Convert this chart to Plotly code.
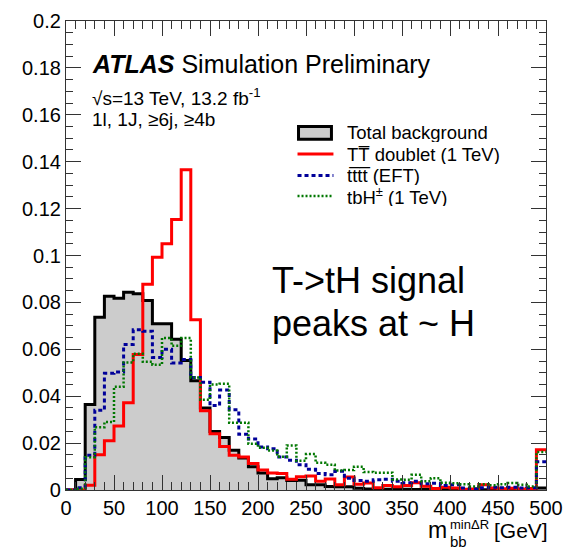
import plotly.graph_objects as go

# ---- binning: 10 GeV bins from 0 to 500 GeV ----
bin_edges = list(range(0, 510, 10))

# ---- normalised m_bb^minDR distributions (one value per bin) ----
total_background = [
    0.0, 0.0045, 0.0365, 0.0737, 0.0826, 0.0818, 0.0843, 0.0837, 0.0808, 0.0709,
    0.0709, 0.0643, 0.0552, 0.0466, 0.0350, 0.0250, 0.0224, 0.0169, 0.0136, 0.0099,
    0.0072, 0.0048, 0.0052, 0.0040, 0.0042, 0.0022, 0.0022, 0.0015, 0.0014, 0.0014,
    0.0007, 0.0004, 0.0004, 0.0003, 0.0003, 0.0003, 0.0002, 0.0003, 0.0002, 0.0002,
    0.0002, 0.0001, 0.0002, 0.0001, 0.0001, 0.0001, 0.0001, 0.0001, 0.0001, 0.0009,
]
tt_doublet = [
    0.0, 0.0, 0.0020, 0.0150, 0.0210, 0.0273, 0.0372, 0.0578, 0.0877, 0.0993,
    0.1050, 0.1153, 0.1366, 0.0726, 0.0338, 0.0240, 0.0186, 0.0148, 0.0141, 0.0113,
    0.0085, 0.0072, 0.0070, 0.0046, 0.0057, 0.0060, 0.0037, 0.0047, 0.0022, 0.0055,
    0.0024, 0.0030, 0.0010, 0.0019, 0.0014, 0.0019, 0.0031, 0.0016, 0.0006, 0.0012,
    0.0009, 0.0003, 0.0004, 0.0022, 0.0008, 0.0005, 0.0007, 0.0004, 0.0006, 0.0172,
]
tttt_eft = [
    0.0, 0.0010, 0.0148, 0.0340, 0.0498, 0.0503, 0.0620, 0.0683, 0.0677, 0.0565,
    0.0600, 0.0542, 0.0557, 0.0480, 0.0460, 0.0360, 0.0426, 0.0342, 0.0238, 0.0217,
    0.0183, 0.0176, 0.0141, 0.0127, 0.0108, 0.0088, 0.0070, 0.0065, 0.0080, 0.0050,
    0.0040, 0.0037, 0.0044, 0.0046, 0.0037, 0.0031, 0.0037, 0.0027, 0.0029, 0.0019,
    0.0022, 0.0009, 0.0005, 0.0010, 0.0012, 0.0010, 0.0012, 0.0008, 0.0010, 0.0120,
]
tbh_charged = [
    0.0, 0.0005, 0.0140, 0.0268, 0.0290, 0.0440, 0.0544, 0.0581, 0.0547, 0.0534,
    0.0648, 0.0615, 0.0648, 0.0480, 0.0385, 0.0450, 0.0453, 0.0287, 0.0287, 0.0197,
    0.0180, 0.0168, 0.0142, 0.0190, 0.0125, 0.0153, 0.0116, 0.0108, 0.0083, 0.0085,
    0.0099, 0.0077, 0.0074, 0.0074, 0.0045, 0.0044, 0.0065, 0.0037, 0.0050, 0.0031,
    0.0029, 0.0025, 0.0015, 0.0025, 0.0020, 0.0025, 0.0030, 0.0022, 0.0015, 0.0162,
]

# ---- axis ticks ----
x_tick_values = [0, 50, 100, 150, 200, 250, 300, 350, 400, 450, 500]
x_tick_labels = ["0", "50", "100", "150", "200", "250", "300", "350", "400", "450", "500"]
y_tick_values = [0, 0.02, 0.04, 0.06, 0.08, 0.1, 0.12, 0.14, 0.16, 0.18, 0.2]
y_tick_labels = ["0", "0.02", "0.04", "0.06", "0.08", "0.1", "0.12", "0.14", "0.16", "0.18", "0.2"]

legend_labels = [
    "Total background",
    "TT\u0305 doublet (1 TeV)",
    "tt\u0305tt\u0305 (EFT)",
    "tbH<sup>\u00b1</sup> (1 TeV)",
]

FONT = "Liberation Sans, Arial, Helvetica, sans-serif"
W, H = 573, 556
ML, MR, MT, MB = 66, 26, 10, 66
PW, PH = W - ML - MR, H - MT - MB

RED = "#ff0000"
BLUE = "#000099"
GREEN = "#007700"
FILL = "#cccccc"
AXIS = "#333333"


def px(xp):
    return (xp - ML) / PW


def py(yp):
    return (H - MB - yp) / PH


def step(values):
    return bin_edges, list(values) + [values[-1]]


fig = go.Figure()

x, y = step(total_background)
fig.add_trace(go.Scatter(x=x, y=y, mode="lines", line=dict(shape="hv", color="black", width=3),
                         fill="tozeroy", fillcolor=FILL, showlegend=False))
x, y = step(tt_doublet)
fig.add_trace(go.Scatter(x=x, y=y, mode="lines", line=dict(shape="hv", color=RED, width=3),
                         showlegend=False))
x, y = step(tttt_eft)
fig.add_trace(go.Scatter(x=x, y=y, mode="lines",
                         line=dict(shape="hv", color=BLUE, width=3, dash="4px,3px"),
                         showlegend=False))
x, y = step(tbh_charged)
fig.add_trace(go.Scatter(x=x, y=y, mode="lines",
                         line=dict(shape="hv", color=GREEN, width=2.5, dash="2px,2px"),
                         showlegend=False))

axis_common = dict(
    showline=True, linecolor=AXIS, linewidth=1.2, mirror="allticks",
    ticks="inside", tickcolor=AXIS, tickwidth=1.2, ticklen=15,
    showgrid=False, zeroline=False,
    tickfont=dict(family=FONT, size=20, color="black"),
    ticklabeloverflow="allow",
)

fig.update_xaxes(range=[0, 500], tickmode="array", tickvals=x_tick_values, ticktext=x_tick_labels,
                 minor=dict(dtick=10, ticks="inside", ticklen=8, tickcolor=AXIS, tickwidth=1.2),
                 **axis_common)
fig.update_yaxes(range=[0, 0.2], tickmode="array", tickvals=y_tick_values, ticktext=y_tick_labels,
                 minor=dict(dtick=0.005, ticks="inside", ticklen=7, tickcolor=AXIS, tickwidth=1.2),
                 **axis_common)

annotations = []


def text(xp, yp, s, size, anchor="left", color="black", box_h=None):
    ann = dict(x=px(xp), y=py(yp), xref="paper", yref="paper", text=s,
               showarrow=False, xanchor=anchor, yanchor="middle",
               font=dict(family=FONT, size=size, color=color))
    if box_h is not None:
        ann["height"] = box_h
    annotations.append(ann)


# experiment label block
text(90, 54, "<b><i>ATLAS</i></b> Simulation Preliminary", 25)
text(90, 88, "\u221as=13 TeV, 13.2 fb<sup>-1</sup>", 19)
text(90, 111, "1l, 1J, \u22656j, \u22654b", 19)

# large comment text
text(270, 276, "T->tH signal", 36)
text(270, 320, "peaks at ~ H", 36)

# x-axis title with stacked sub/superscript
text(427, 531, "m", 23)
text(449, 525, "minΔR", 13, box_h=12)
text(449, 542, "bb", 15, box_h=14)
text(493, 531, "[GeV]", 21)

# legend
shapes = []
legend_y = [124, 146, 168, 189]
shapes.append(dict(type="rect", xref="paper", yref="paper",
                   x0=px(299), x1=px(332), y0=py(118), y1=py(131),
                   fillcolor=FILL, line=dict(color="black", width=3)))
line_styles = [(RED, 3, "solid"), (BLUE, 3, "4px,3px"), (GREEN, 2.5, "2px,2px")]
for (col, wdt, dsh), yy in zip(line_styles, legend_y[1:]):
    shapes.append(dict(type="line", xref="paper", yref="paper",
                       x0=px(298), x1=px(334), y0=py(yy), y1=py(yy),
                       line=dict(color=col, width=wdt, dash=dsh)))
for lab, yy in zip(legend_labels, legend_y):
    text(346, yy, lab, 18.5, box_h=20)

fig.update_layout(
    width=W, height=H,
    margin=dict(l=ML, r=MR, t=MT, b=MB, pad=0),
    paper_bgcolor="white", plot_bgcolor="white",
    annotations=annotations, shapes=shapes,
    showlegend=False,
)

fig.write_html("out.html")
